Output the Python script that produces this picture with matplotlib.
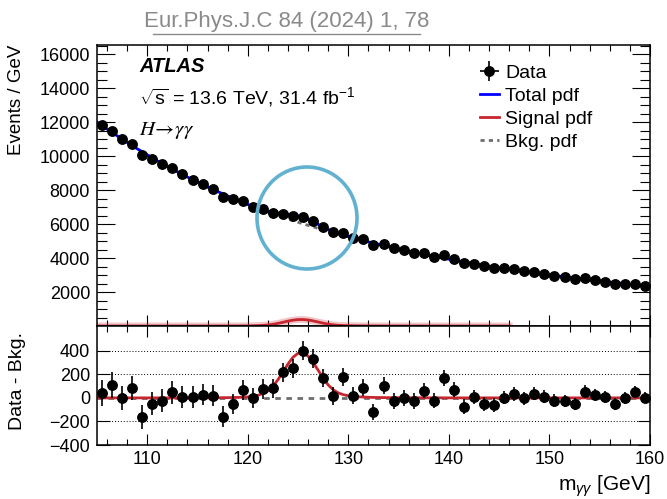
import numpy as np
import matplotlib
matplotlib.use('Agg')
import matplotlib.pyplot as plt
from matplotlib.ticker import MultipleLocator
from matplotlib.patches import Ellipse
from matplotlib.lines import Line2D

plt.rcParams['font.family'] = ['Liberation Sans', 'DejaVu Sans']
plt.rcParams['mathtext.fontset'] = 'custom'
plt.rcParams['mathtext.rm'] = 'Liberation Sans'
plt.rcParams['mathtext.it'] = 'Liberation Sans:italic'
plt.rcParams['mathtext.bf'] = 'Liberation Sans:bold'

# 1 GeV bins, 105-160 GeV
m_yy = np.arange(105.5, 160.0, 1.0)

# events / GeV (upper panel)
events = [11840, 11510, 11010, 10707, 10090, 9850, 9537, 9284, 8927, 8625,
          8358, 8071, 7621, 7471, 7338, 7032, 6887, 6679, 6611, 6452,
          6418, 6170, 5832, 5513, 5506, 5191, 5112, 4756, 4842, 4577,
          4467, 4319, 4284, 4081, 4158, 3948, 3700, 3678, 3523, 3420,
          3392, 3335, 3212, 3165, 3061, 2949, 2871, 2768, 2804, 2706,
          2620, 2500, 2487, 2477, 2373]

# data - bkg (lower panel)
resid = [40, 110, 0, 82, -160, -50, -25, 48, 5, 5,
         28, 20, -160, -50, 68, -3, 76, 82, 218, 252,
         402, 332, 168, 17, 176, 17, 88, -122, 105, -23,
         -3, -25, 62, -23, 168, 68, -74, 6, -51, -60,
         3, 34, -3, 34, 11, -23, -25, -54, 54, 26,
         6, -51, -3, 48, 3]

# fit curves (finer sampling around the peak)
fit_x = np.concatenate([np.arange(105, 119), np.arange(119, 133.01, 0.5),
                        np.arange(134, 161)])
bkg_fit = [12005, 11600, 11205, 10818, 10438, 10075, 9731, 9399, 9079, 8771,
           8475, 8191, 7916, 7651, 7396,
           7270, 7153, 7035, 6923, 6811, 6704, 6597, 6495, 6393, 6297,
           6200, 6108, 6016, 5927, 5838, 5751, 5664, 5580, 5496, 5413,
           5330, 5252, 5174, 5099, 5024, 4951, 4878, 4808,
           4669, 4535, 4407, 4283, 4163, 4047, 3935, 3827, 3723, 3623,
           3527, 3435, 3345, 3258, 3173, 3091, 3011, 2934, 2859, 2786,
           2715, 2647, 2583, 2521, 2460, 2400, 2340]
sig_fit = [0, 0, 0, 0, 0, 0, 0, 0, 0, 0, 0.5, 1, 1.5, 2, 4,
           5, 8, 13, 22, 36, 60, 99, 154, 220, 288,
           345, 379, 382, 354, 300, 234, 167, 109, 68, 42,
           27, 18, 13, 9, 7, 5, 4, 3,
           2, 1.5, 1, 1, 0.5, 0.5, 0, 0, 0, 0,
           0, 0, 0, 0, 0, 0, 0, 0, 0, 0,
           0, 0, 0, 0, 0, 0, 0]

events = np.array(events, dtype=float)
resid = np.array(resid, dtype=float)
bkg_fit = np.array(bkg_fit, dtype=float)
sig_fit = np.array(sig_fit, dtype=float)
total_fit = bkg_fit + sig_fit

red = '#c8262f'
blue = '#0000ff'
grey = '#6e6e6e'

fig = plt.figure(figsize=(6.67, 4.99), dpi=100)
ax1 = fig.add_axes([0.1454, 0.3467, 0.8291, 0.5631])
ax2 = fig.add_axes([0.1454, 0.1082, 0.8291, 0.2385], sharex=ax1)

# upper panel
l_bkg, = ax1.plot(fit_x, bkg_fit, color=grey, ls=(0, (1.5, 1.5)), lw=2)
l_tot, = ax1.plot(fit_x, total_fit, color=blue, lw=2)
top_sig = fit_x <= 146.5
ax1.plot(fit_x[top_sig], sig_fit[top_sig], color=red, lw=5, alpha=0.25)
l_sig, = ax1.plot(fit_x[top_sig], sig_fit[top_sig], color=red, lw=2)
ax1.errorbar(m_yy, events, yerr=np.sqrt(events), fmt='o', color='k',
             ms=6.8, elinewidth=1, capsize=0, zorder=5)
h_data = ax1.errorbar([np.nan], [np.nan], xerr=1, yerr=1, fmt='o', color='k',
                      ms=6.8, elinewidth=1.2, capsize=0)

ax1.set_xlim(105, 160)
ax1.set_ylim(0, 16550)
ax1.set_yticks(np.arange(2000, 16001, 2000))
ax1.yaxis.set_minor_locator(MultipleLocator(500))
ax1.xaxis.set_major_locator(MultipleLocator(10))
ax1.xaxis.set_minor_locator(MultipleLocator(2))
ax1.tick_params(which='both', direction='in', top=True, right=True, width=0.8)
ax1.tick_params(axis='y', which='major', length=13, labelsize=13, pad=5)
ax1.tick_params(axis='y', which='minor', length=7)
ax1.tick_params(axis='x', which='major', length=8, labelbottom=False)
ax1.tick_params(axis='x', which='minor', length=4)
ax1.set_ylabel('Events / GeV', fontsize=13.5, loc='top')
ax1.yaxis.set_label_coords(-0.13, 1.0)

ax1.text(0.076, 0.922, 'ATLAS', transform=ax1.transAxes, fontsize=14.5,
         fontweight='bold', fontstyle='italic', va='center')
ax1.text(0.076, 0.815, r'$\sqrt{\mathregular{s}}$ = 13.6 TeV, 31.4 fb$^{-1}$',
         transform=ax1.transAxes, fontsize=14, va='center')
ax1.text(0.076, 0.697, r'$H\!\rightarrow\!\gamma\gamma$', transform=ax1.transAxes,
         fontsize=15, va='center', math_fontfamily='stix')

ax1.legend([h_data, l_tot, l_sig, l_bkg],
           ['Data', 'Total pdf', 'Signal pdf', 'Bkg. pdf'],
           loc='upper left', bbox_to_anchor=(0.692, 0.932), frameon=False,
           fontsize=14, handlelength=1.0, handletextpad=0.3,
           labelspacing=0.28, borderpad=0, borderaxespad=0)

# lower panel
for g in [400, 200, -200]:
    ax2.axhline(g, color='k', ls=(0, (1, 2)), lw=0.7, zorder=0)
ax2.plot(fit_x, np.zeros_like(fit_x), color=grey, ls=(0, (2, 2)), lw=2)
ax2.plot(fit_x, sig_fit, color=red, lw=2)
ax2.errorbar(m_yy, resid, yerr=np.sqrt(events), fmt='o', color='k',
             ms=6.8, elinewidth=1.2, capsize=0, zorder=5)

ax2.set_ylim(-400, 610)
ax2.set_yticks([-400, -200, 0, 200, 400])
ax2.tick_params(which='both', direction='in', top=True, right=True, width=0.8)
ax2.tick_params(axis='y', which='major', length=9, labelsize=13, pad=5)
ax2.tick_params(axis='x', which='major', length=8, labelsize=13, pad=4)
ax2.tick_params(axis='x', which='minor', length=4)
ax2.set_ylabel('Data - Bkg.', fontsize=14, loc='top')
ax2.yaxis.set_label_coords(-0.128, 0.95)
ax2.set_xlabel(r'm$_{\gamma\gamma}$ [GeV]', fontsize=15, loc='right', labelpad=4)

for ax in (ax1, ax2):
    for s in ax.spines.values():
        s.set_linewidth(1.1)

# reference header and highlight circle
fig.text(287 / 667, 1 - 22 / 499, 'Eur.Phys.J.C 84 (2024) 1, 78', color='#8a8a8a',
         fontsize=16, ha='center', va='center')
fig.add_artist(Line2D([153 / 667, 420 / 667], [1 - 34 / 499] * 2,
                      transform=fig.transFigure, color='#8a8a8a', lw=1))
fig.add_artist(Ellipse((307 / 667, 1 - 218 / 499), 100 / 667, 102 / 499,
                       transform=fig.transFigure, fill=False,
                       ec='#62b1d0', lw=2.6, zorder=10))

fig.savefig('out.png', dpi=100)
